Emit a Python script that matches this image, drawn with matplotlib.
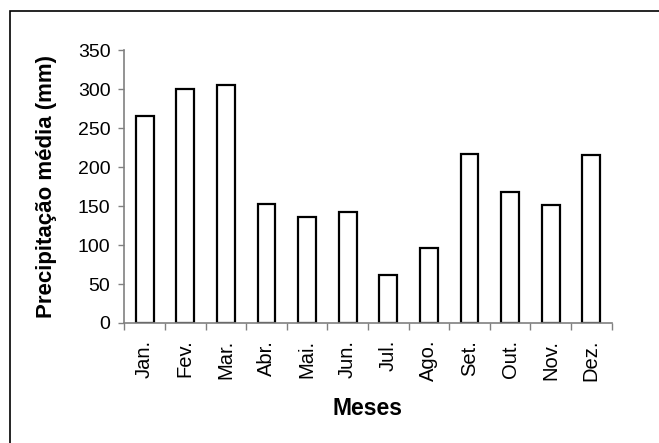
import matplotlib
matplotlib.use("Agg")
import matplotlib.pyplot as plt
import numpy as np
from matplotlib.patches import Rectangle

# ---------------- Data ----------------
meses = ["Jan.", "Fev.", "Mar.", "Abr.", "Mai.", "Jun.",
         "Jul.", "Ago.", "Set.", "Out.", "Nov.", "Dez."]
precip = [266, 300, 306, 153, 136, 143, 61, 96, 217, 168, 152, 216]
yticks = [0, 50, 100, 150, 200, 250, 300, 350]

plt.rcParams['font.family'] = ['Liberation Sans', 'DejaVu Sans']

fig = plt.figure(figsize=(6.59, 4.43), dpi=100)
ax = fig.add_axes([0.1887, 0.2709, 0.7393, 0.6156])

x = np.arange(len(meses))
ax.bar(x, precip, width=0.44, color="white", edgecolor="black", linewidth=1.6)

ax.set_xlim(-0.5, len(meses) - 0.5)
ax.set_ylim(0, 350)
ax.set_yticks(yticks)
ax.tick_params(axis="y", labelsize=14, length=4, width=1, color="#808080", pad=6)

# tick marks between categories, labels at centers
ax.set_xticks(np.arange(-0.5, len(meses), 1.0))
ax.set_xticklabels([])
ax.tick_params(axis="x", which="major", length=5, width=1, color="#808080")
ax.set_xticks(x, minor=True)
ax.set_xticklabels(meses, minor=True, rotation=90, fontsize=14.5)
ax.tick_params(axis="x", which="minor", length=0, pad=12)

for s in ["top", "right"]:
    ax.spines[s].set_visible(False)
for s in ["left", "bottom"]:
    ax.spines[s].set_color("#808080")
    ax.spines[s].set_linewidth(1.2)

ax.set_ylabel("Precipitação média (mm)", fontsize=16, fontweight="bold")
ax.yaxis.set_label_coords(-0.138, 0.5)
ax.set_xlabel("Meses", fontsize=16.5, fontweight="bold")
ax.xaxis.set_label_coords(0.5, -0.271)

# outer chart frame (only left/top edges are inside the picture)
fig.patches.append(Rectangle((10 / 659, -0.1), 1.2, 1 - 11 / 443 + 0.1,
                             transform=fig.transFigure, fill=False,
                             edgecolor="black", linewidth=1.2))

fig.savefig("out.png", dpi=100)
